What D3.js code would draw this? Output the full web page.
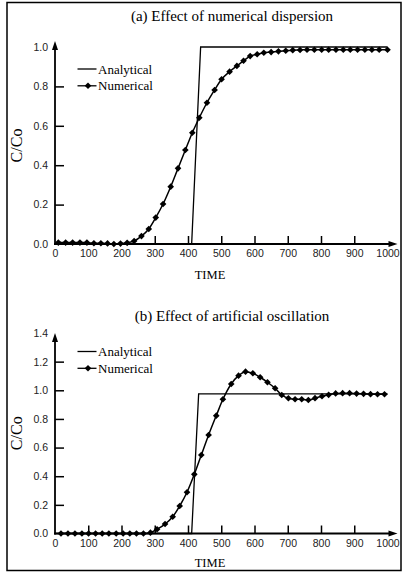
<!DOCTYPE html>
<html>
<head>
<meta charset="utf-8">
<script src="https://cdn.jsdelivr.net/npm/d3@7"></script>
<style>
  body { margin: 0; background: #fff; }
  svg { display: block; }
</style>
</head>
<body>
<svg id="chart" width="403" height="572"></svg>
<script>
// Data
const xTickLabels = [0, 100, 200, 300, 400, 500, 600, 700, 800, 900, 1000]

// (a) numerical dispersion
const timeA = [10, 32, 53, 75, 96, 117, 138, 158, 177, 197, 217, 238, 260, 282, 303, 325, 348, 370, 392, 413, 434, 457, 480, 501, 525, 547, 567, 587, 608, 628, 650, 672, 694, 715, 737, 758, 780, 802, 823, 845, 867, 888, 910, 932, 953, 975, 1000]
const numericalA = [0.007, 0.007, 0.007, 0.007, 0.007, 0.004, 0.004, 0.003, 0.0, 0.002, 0.006, 0.015, 0.04, 0.076, 0.134, 0.203, 0.291, 0.384, 0.477, 0.565, 0.641, 0.717, 0.782, 0.836, 0.875, 0.904, 0.93, 0.954, 0.963, 0.971, 0.974, 0.978, 0.981, 0.984, 0.985, 0.986, 0.986, 0.986, 0.986, 0.986, 0.986, 0.986, 0.986, 0.986, 0.986, 0.986, 0.986]
const analyticalTimeA = [0, 411, 438, 1000]
const analyticalA = [0, 0, 1.0, 1.0]
const yTicksA = [0, 0.2, 0.4, 0.6, 0.8, 1.0]

// (b) artificial oscillation
const timeB = [18, 39, 60, 81, 101, 122, 142, 162, 184, 205, 225, 245, 266, 287, 307, 331, 354, 375, 397, 419, 440, 462, 485, 505, 530, 552, 573, 595, 617, 639, 662, 682, 702, 722, 742, 762, 782, 803, 823, 844, 865, 886, 907, 928, 949, 970, 991]
const numericalB = [0, 0, 0, 0, 0, 0, 0, 0, 0, 0, 0, 0, 0, 0.006, 0.03, 0.066, 0.117, 0.192, 0.288, 0.413, 0.548, 0.688, 0.823, 0.937, 1.044, 1.102, 1.13, 1.119, 1.091, 1.056, 1.014, 0.967, 0.944, 0.937, 0.937, 0.932, 0.945, 0.958, 0.968, 0.978, 0.98, 0.98, 0.977, 0.975, 0.973, 0.972, 0.972]
const analyticalTimeB = [0, 411, 432, 1000]
const analyticalB = [0, 0, 0.975, 0.975]
const yTicksB = [0, 0.2, 0.4, 0.6, 0.8, 1.0, 1.2, 1.4]

const serif = "'Liberation Serif', 'Times New Roman', serif"
const sans = "'Liberation Sans', Arial, sans-serif"

const svg = d3.select("#chart")
svg.append("rect").attr("width", 403).attr("height", 572).attr("fill", "#fff")
// outer frame
svg.append("rect")
  .attr("x", 7).attr("y", 2.5).attr("width", 394).attr("height", 568)
  .attr("fill", "none").attr("stroke", "#000").attr("stroke-width", 1.5)

const panels = [
  { title: "(a) Effect of numerical dispersion", titleY: 21, time: timeA, num: numericalA,
    aTime: analyticalTimeA, ana: analyticalA, yTicks: yTicksA, yMax: 1.0, yRange: [244, 47],
    arrowTop: 1.03, xTickLines: [300, 400, 500, 600, 700, 800, 900], legendY: 69, timeY: 279 },
  { title: "(b) Effect of artificial oscillation", titleY: 320.5, time: timeB, num: numericalB,
    aTime: analyticalTimeB, ana: analyticalB, yTicks: yTicksB, yMax: 1.4, yRange: [533.5, 333],
    arrowTop: 1.4, xTickLines: [100, 200, 300, 400, 500, 600, 700, 800, 900], legendY: 351.5, timeY: 567 }
]

panels.forEach(p => {
  const g = svg.append("g")
  const xScale = d3.scaleLinear().domain([0, 1000]).range([55, 387.5])
  const yScale = d3.scaleLinear().domain([0, p.yMax]).range(p.yRange)
  const y0 = yScale(0)

  // title
  g.append("text").attr("x", 232).attr("y", p.titleY).attr("text-anchor", "middle")
    .attr("font-family", serif).attr("font-size", 15).text(p.title)

  // Y axis ticks + labels (ticks point inward)
  const yAxis = g.append("g").attr("transform", `translate(${xScale(0)},0)`)
    .call(d3.axisLeft(yScale).tickValues(p.yTicks).tickFormat(d3.format(".1f")).tickSize(-9).tickPadding(7))
  yAxis.select(".domain").remove()
  yAxis.selectAll(".tick line").attr("stroke-width", 1.5)
    .filter(d => d === 0 || d === p.yMax).remove()
  yAxis.selectAll("text").attr("font-family", sans).attr("font-size", 10.5).attr("fill", "#222")

  // X axis ticks + labels
  const xAxis = g.append("g").attr("transform", `translate(0,${y0})`)
    .call(d3.axisBottom(xScale).tickValues(xTickLabels).tickFormat(d3.format("d")).tickSize(-8).tickPadding(6))
  xAxis.select(".domain").remove()
  xAxis.selectAll(".tick line").attr("stroke-width", 1.5)
    .filter(d => p.xTickLines.indexOf(d) < 0).remove()
  xAxis.selectAll("text").attr("font-family", sans).attr("font-size", 10.5).attr("fill", "#222")

  // axis lines with arrows
  const yTop = yScale(p.arrowTop)
  g.append("line").attr("x1", xScale(0)).attr("x2", xScale(0)).attr("y1", y0 + 1).attr("y2", yTop + 6)
    .attr("stroke", "#000").attr("stroke-width", 1.8)
  g.append("path").attr("d", `M${xScale(0)},${yTop} l-3,9 l6,0 z`).attr("fill", "#000")
  const xEnd = 397.5
  g.append("line").attr("x1", xScale(0) - 1).attr("x2", xEnd - 6).attr("y1", y0).attr("y2", y0)
    .attr("stroke", "#000").attr("stroke-width", 1.8)
  g.append("path").attr("d", `M${xEnd},${y0} l-9,-3 l0,6 z`).attr("fill", "#000")

  // axis titles
  g.append("text").attr("x", 210).attr("y", p.timeY).attr("text-anchor", "middle")
    .attr("font-family", serif).attr("font-size", 12.5).text("TIME")
  const yMid = (yScale(0) + yScale(p.yMax)) / 2
  g.append("text").attr("transform", `translate(22,${yMid}) rotate(-90)`).attr("text-anchor", "middle")
    .attr("font-family", serif).attr("font-size", 16).text("C/Co")

  // analytical
  const anaData = p.aTime.map((t, i) => ({ t: t, v: p.ana[i] }))
  g.append("path").datum(anaData)
    .attr("d", d3.line().x(d => xScale(d.t)).y(d => yScale(d.v)))
    .attr("fill", "none").attr("stroke", "#000").attr("stroke-width", 1.3)

  // numerical
  const numData = p.time.map((t, i) => ({ t: t, v: p.num[i] }))
  g.append("path").datum(numData)
    .attr("d", d3.line().x(d => xScale(d.t)).y(d => yScale(d.v)).curve(d3.curveMonotoneX))
    .attr("fill", "none").attr("stroke", "#000").attr("stroke-width", 1.5)
  const marker = d3.symbol().type(d3.symbolSquare).size(22)
  g.selectAll(".pt").data(numData).join("path").attr("class", "pt")
    .attr("d", marker)
    .attr("transform", d => `translate(${xScale(d.t)},${yScale(d.v)}) rotate(45)`)
    .attr("fill", "#000")

  // legend
  const lx = 77.5, lw = 19
  g.append("line").attr("x1", lx).attr("x2", lx + lw).attr("y1", p.legendY).attr("y2", p.legendY)
    .attr("stroke", "#000").attr("stroke-width", 1.3)
  g.append("text").attr("x", lx + lw + 1.5).attr("y", p.legendY + 4.5)
    .attr("font-family", serif).attr("font-size", 13).text("Analytical")
  const ly2 = p.legendY + 16.8
  g.append("line").attr("x1", lx).attr("x2", lx + lw).attr("y1", ly2).attr("y2", ly2)
    .attr("stroke", "#000").attr("stroke-width", 1.3)
  g.append("path").attr("d", marker).attr("transform", `translate(${lx + 10.5},${ly2}) rotate(45)`).attr("fill", "#000")
  g.append("text").attr("x", lx + lw + 1.5).attr("y", ly2 + 4.5)
    .attr("font-family", serif).attr("font-size", 13).text("Numerical")
})
</script>
</body>
</html>
